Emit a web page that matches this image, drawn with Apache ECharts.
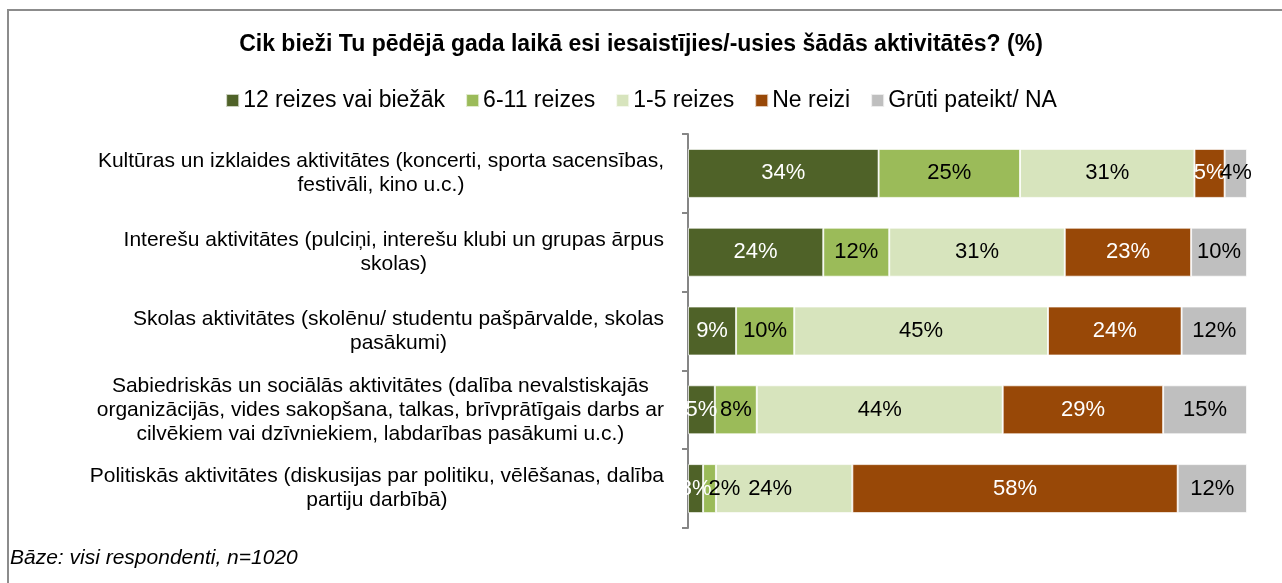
<!DOCTYPE html>
<html>
<head>
<meta charset="utf-8">
<script src="https://cdn.jsdelivr.net/npm/echarts@6/dist/echarts.min.js"></script>
<style>
  html, body { margin: 0; padding: 0; background: #fff; }
  #chart { width: 1282px; height: 583px; }
</style>
</head>
<body>
<div id="chart"></div>
<script>
const categories = [
  'Kultūras un izklaides aktivitātes (koncerti, sporta sacensības,\nfestivāli, kino u.c.)',
  'Interešu aktivitātes (pulciņi, interešu klubi un grupas ārpus\nskolas)',
  'Skolas aktivitātes (skolēnu/ studentu pašpārvalde, skolas\npasākumi)',
  'Sabiedriskās un sociālās aktivitātes (dalība nevalstiskajās\norganizācijās, vides sakopšana, talkas, brīvprātīgais darbs ar\ncilvēkiem vai dzīvniekiem, labdarības pasākumi u.c.)',
  'Politiskās aktivitātes (diskusijas par politiku, vēlēšanas, dalība\npartiju darbībā)'
];
const seriesNames = ['12 reizes vai biežāk', '6-11 reizes', '1-5 reizes', 'Ne reizi', 'Grūti pateikt/ NA'];

// shares in % (labels show them rounded)
const often12 = [34.1, 24.2, 8.6, 4.8, 2.7];
const times6to11 = [25.3, 11.8, 10.4, 7.5, 2.3];
const times1to5 = [31.2, 31.4, 45.4, 44.0, 24.4];
const never = [5.4, 22.6, 23.9, 28.7, 58.2];
const hardToSay = [4.0, 10.0, 11.7, 15.0, 12.4];

const colors = ['#4F6228', '#9BBB59', '#D7E4BD', '#984807', '#BFBFBF'];
const labelColors = ['#fff', '#000', '#000', '#fff', '#000'];
const font = "'Liberation Sans', Arial, sans-serif";

const chart = echarts.init(document.getElementById('chart'));

function makeSeries(name, data, i) {
  return {
    name,
    type: 'bar',
    stack: 'total',
    barWidth: 49,
    data,
    itemStyle: { color: colors[i], borderColor: 'rgba(255,255,255,0.7)', borderWidth: 1 },
    label: {
      show: true,
      position: 'inside',
      color: labelColors[i],
      fontFamily: font,
      fontSize: 22,
      formatter: (p) => Math.round(p.value) + '%'
    },
    labelLayout: (p) => {
      // small segments in the last row: labels nudged apart like the original
      if (p.dataIndex === 4 && i === 1) return { dx: 15 };
      if (p.dataIndex === 4 && i === 2) return { dx: -14 };
      return {};
    }
  };
}

chart.setOption({
  animation: false,
  textStyle: { fontFamily: font },
  title: {
    text: 'Cik bieži Tu pēdējā gada laikā esi iesaistījies/-usies šādās aktivitātēs? (%)',
    left: 'center',
    top: 28,
    textStyle: { fontFamily: font, fontSize: 23, fontWeight: 'bold', color: '#000' }
  },
  legend: {
    top: 84,
    left: 'center',
    icon: 'rect',
    itemWidth: 13,
    itemHeight: 13,
    itemGap: 20,
    textStyle: { fontFamily: font, fontSize: 23, color: '#000', padding: [0, 0, 0, -1] },
    data: seriesNames
  },
  grid: { left: 688, right: 35, top: 134, bottom: 55 },
  xAxis: {
    type: 'value',
    min: 0,
    max: 100,
    show: false
  },
  yAxis: {
    type: 'category',
    inverse: true,
    data: categories,
    axisLine: { show: true, lineStyle: { color: '#868686', width: 2 } },
    axisTick: { show: true, length: 6, lineStyle: { color: '#868686', width: 2 } },
    axisLabel: {
      margin: 24,
      formatter: (v) => v.split('\n').map((l) => '{c|' + l + '}').join('\n'),
      rich: {
        c: { align: 'center', fontFamily: font, fontSize: 21, lineHeight: 24, color: '#000' }
      }
    }
  },
  graphic: [
    {
      type: 'rect',
      shape: { x: 8, y: 10, width: 1300, height: 600 },
      style: { fill: 'none', stroke: '#8c8c8c', lineWidth: 2 },
      silent: true
    },
    {
      type: 'text',
      left: 10,
      top: 548,
      style: { text: 'Bāze: visi respondenti, n=1020', font: "italic 21px 'Liberation Sans', Arial, sans-serif", fill: '#000' }
    }
  ],
  series: [
    makeSeries(seriesNames[0], often12, 0),
    makeSeries(seriesNames[1], times6to11, 1),
    makeSeries(seriesNames[2], times1to5, 2),
    makeSeries(seriesNames[3], never, 3),
    makeSeries(seriesNames[4], hardToSay, 4)
  ]
});
</script>
</body>
</html>
